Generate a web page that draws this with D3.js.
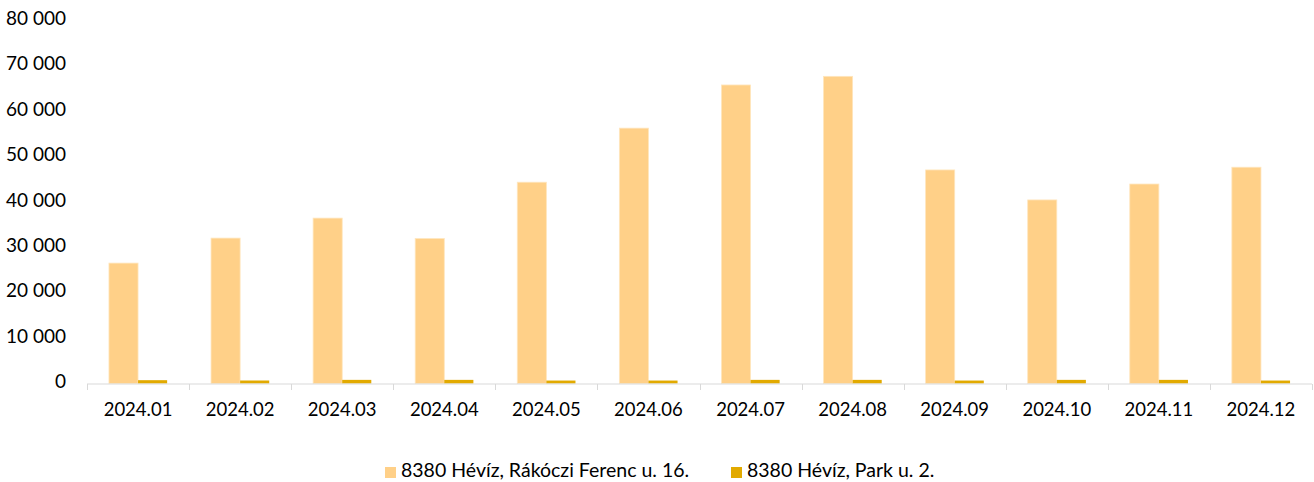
<!DOCTYPE html>
<html><head><meta charset="utf-8">
<script src="https://cdn.jsdelivr.net/npm/d3@7/dist/d3.min.js"></script>
<style>body{margin:0;background:#fff}svg{display:block;font-family:Lato,"Open Sans",sans-serif}</style>
</head><body><svg id="c" width="1314" height="482"></svg>
<script>
const categories = ["2024.01","2024.02","2024.03","2024.04","2024.05","2024.06","2024.07","2024.08","2024.09","2024.10","2024.11","2024.12"];
const seriesNames = ["8380 Hévíz, Rákóczi Ferenc u. 16.","8380 Hévíz, Park u. 2."];
const rakoczi = [26500,32000,36400,31900,44300,56200,65700,67600,47000,40400,43900,47600];
const park = [730,660,800,800,650,650,800,800,650,800,800,650];
const yTicks = [0,10000,20000,30000,40000,50000,60000,70000,80000];
const colors = ["#FFD088","#E2AA00"];

(function(){
const svg = d3.select("#c");
const pLeft = 87, pRight = 1312, pTop = 20, pBottom = 383.5;
const x = d3.scaleBand().domain(categories).range([pLeft,pRight]).paddingInner(0).paddingOuter(0);
const y = d3.scaleLinear().domain([0,80000]).range([pBottom,pTop]);
const bw = x.bandwidth()*0.285;
const series = [rakoczi, park];

series.forEach((vals,si)=>{
  svg.append("g").selectAll("rect").data(vals).join("rect")
    .attr("x",(d,i)=>x(categories[i])+x.bandwidth()/2 - bw + si*bw)
    .attr("y",d=>y(d))
    .attr("width",bw)
    .attr("height",d=>pBottom-y(d))
    .attr("fill",colors[si])
    .attr("stroke", si===0 ? "#FFE6BE" : "none")
    .attr("stroke-width",0.8);
});

const xa = svg.append("g");
xa.append("line").attr("x1",pLeft).attr("x2",pRight).attr("y1",pBottom+0.5).attr("y2",pBottom+0.5).attr("stroke","#d9d9d9").attr("stroke-width",1);
const bounds = categories.map(c=>x(c)).concat([pRight]);
xa.selectAll("line.t").data(bounds).join("line").attr("class","t")
  .attr("x1",d=>Math.round(d)+0.5).attr("x2",d=>Math.round(d)+0.5)
  .attr("y1",pBottom+0.5).attr("y2",pBottom+6.5).attr("stroke","#d9d9d9");
xa.selectAll("text").data(categories).join("text")
  .attr("x",d=>x(d)+x.bandwidth()/2).attr("y",411)
  .attr("text-anchor","middle").attr("dominant-baseline","middle")
  .attr("font-size",18.5).attr("fill","#000").text(d=>d);

const fmt = d=>d3.format(",")(d).replace(/,/g," ");
svg.append("g").selectAll("text").data(yTicks).join("text")
  .attr("x",66).attr("y",d=>y(d)).attr("text-anchor","end").attr("dominant-baseline","middle")
  .attr("font-size",19).attr("fill","#000").text(fmt);

const leg = svg.append("g");
const lx = [385, 731];
seriesNames.forEach((n,i)=>{
  leg.append("rect").attr("x",lx[i]).attr("y",467).attr("width",11).attr("height",11).attr("fill",colors[i]);
  leg.append("text").attr("x",lx[i]+16).attr("y",472.5).attr("dominant-baseline","middle")
    .attr("font-size",19.5).attr("fill","#000").text(n);
});
})();
</script></body></html>
